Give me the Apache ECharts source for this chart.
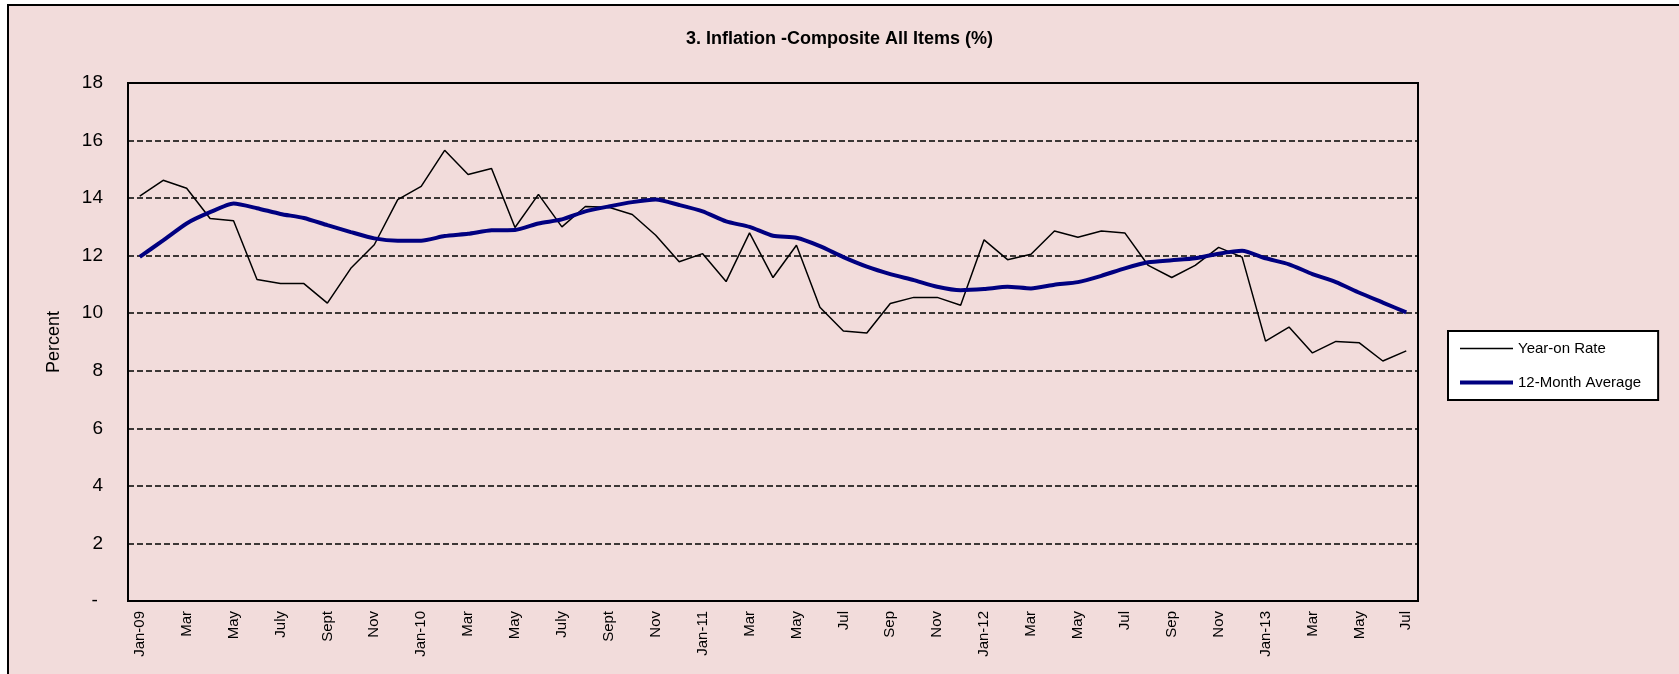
<!DOCTYPE html>
<html>
<head>
<meta charset="utf-8">
<script src="https://cdn.jsdelivr.net/npm/echarts@6/dist/echarts.min.js"></script>
<style>
	html, body { margin: 0; padding: 0; background: #ffffff; }
	.frame {
		position: absolute; left: 7px; top: 4px; width: 1670px; height: 680px;
		background: #f2dcdb;
		border-left: 2px solid #000; border-top: 2px solid #000; border-right: 1px solid #999;
	}
	#chart { position: absolute; left: 0; top: 0; width: 1679px; height: 674px; }
</style>
</head>
<body>
<div class="frame"></div>
<div id="chart"></div>
<script>
	// months Jan-09 .. Jul-13
	var months = [
		'Jan-09','Feb-09','Mar-09','Apr-09','May-09','Jun-09','Jul-09','Aug-09','Sep-09','Oct-09','Nov-09','Dec-09',
		'Jan-10','Feb-10','Mar-10','Apr-10','May-10','Jun-10','Jul-10','Aug-10','Sep-10','Oct-10','Nov-10','Dec-10',
		'Jan-11','Feb-11','Mar-11','Apr-11','May-11','Jun-11','Jul-11','Aug-11','Sep-11','Oct-11','Nov-11','Dec-11',
		'Jan-12','Feb-12','Mar-12','Apr-12','May-12','Jun-12','Jul-12','Aug-12','Sep-12','Oct-12','Nov-12','Dec-12',
		'Jan-13','Feb-13','Mar-13','Apr-13','May-13','Jun-13','Jul-13'
	];
	// shown on every second month
	var tickLabels = [
		'Jan-09','Mar','May','July','Sept','Nov',
		'Jan-10','Mar','May','July','Sept','Nov',
		'Jan-11','Mar','May','Jul','Sep','Nov',
		'Jan-12','Mar','May','Jul','Sep','Nov',
		'Jan-13','Mar','May','Jul'
	];
	var yearOnRate = [
		14.07, 14.62, 14.34, 13.29, 13.21, 11.17, 11.03, 11.03, 10.35, 11.56, 12.38, 13.95,
		14.41, 15.66, 14.82, 15.03, 12.98, 14.13, 13.00, 13.71, 13.68, 13.43, 12.71, 11.79,
		12.07, 11.10, 12.79, 11.24, 12.36, 10.21, 9.38, 9.31, 10.34, 10.55, 10.55, 10.28,
		12.55, 11.86, 12.05, 12.86, 12.64, 12.86, 12.79, 11.66, 11.24, 11.66, 12.29, 11.95,
		9.03, 9.52, 8.62, 9.02, 8.97, 8.34, 8.69
	];
	var avg12 = [
		11.96, 12.53, 13.12, 13.51, 13.81, 13.65, 13.45, 13.31, 13.06, 12.82, 12.60, 12.52,
		12.52, 12.68, 12.76, 12.88, 12.89, 13.12, 13.26, 13.54, 13.71, 13.86, 13.95, 13.76,
		13.54, 13.19, 13.00, 12.69, 12.62, 12.33, 11.95, 11.62, 11.36, 11.15, 10.92, 10.80,
		10.84, 10.92, 10.86, 10.99, 11.08, 11.30, 11.56, 11.77, 11.84, 11.91, 12.07, 12.17,
		11.91, 11.70, 11.36, 11.08, 10.71, 10.37, 10.03
	];

	var font = 'Liberation Sans, Arial, sans-serif';
	var chart = echarts.init(document.getElementById('chart'));
	chart.setOption({
		backgroundColor: 'transparent',
		animation: false,
		title: {
			text: '3. Inflation -Composite All Items (%)',
			left: 'center',
			top: 25,
			textStyle: { fontFamily: font, fontSize: 18, fontWeight: 'bold', color: '#000' }
		},
		legend: {
			orient: 'vertical',
			left: 1448,
			top: 331,
			backgroundColor: '#fff',
			borderColor: '#000',
			borderWidth: 2,
			borderRadius: 0,
			padding: [10, 17, 10, 10],
			itemWidth: 53,
			itemHeight: 14,
			itemGap: 19,
			itemStyle: { color: 'transparent', borderColor: 'transparent', borderWidth: 0 },
			textStyle: { fontFamily: font, fontSize: 15, color: '#000' },
			data: [
				{ name: 'Year-on Rate', lineStyle: { width: 1.5, color: '#000' } },
				{ name: '12-Month Average', lineStyle: { width: 4, color: '#000080' } }
			]
		},
		grid: {
			left: 128, right: 261, top: 83, bottom: 73,
			show: true, borderColor: '#000', borderWidth: 2, backgroundColor: 'transparent'
		},
		xAxis: {
			type: 'category',
			data: months,
			boundaryGap: true,
			axisLine: { lineStyle: { color: '#000', width: 2 } },
			axisTick: { show: false },
			axisLabel: {
				interval: 0,
				rotate: 90,
				margin: 10,
				fontFamily: font,
				fontSize: 15,
				color: '#000',
				formatter: function (v, i) { return i % 2 === 0 ? tickLabels[i / 2] : ''; }
			}
		},
		yAxis: {
			type: 'value',
			min: 0, max: 18, interval: 2,
			name: 'Percent',
			nameLocation: 'middle',
			nameGap: 65,
			nameTextStyle: { fontFamily: font, fontSize: 18, color: '#000' },
			axisLine: { show: true, lineStyle: { color: '#000', width: 2 } },
			axisTick: { show: false },
			axisLabel: {
				margin: 25,
				fontFamily: font,
				fontSize: 19,
				color: '#000',
				formatter: function (v) { return v === 0 ? '- ' : v; }
			},
			splitLine: { lineStyle: { color: '#000', width: 1.5, type: [6, 3] } }
		},
		series: [
			{
				name: 'Year-on Rate',
				type: 'line',
				data: yearOnRate,
				symbol: 'none',
				lineStyle: { color: '#000', width: 1.5 },
				itemStyle: { color: '#000' }
			},
			{
				name: '12-Month Average',
				type: 'line',
				data: avg12,
				symbol: 'none',
				smooth: 0.2,
				lineStyle: { color: '#000080', width: 4 },
				itemStyle: { color: '#000080' }
			}
		]
	});
</script>
</body>
</html>
